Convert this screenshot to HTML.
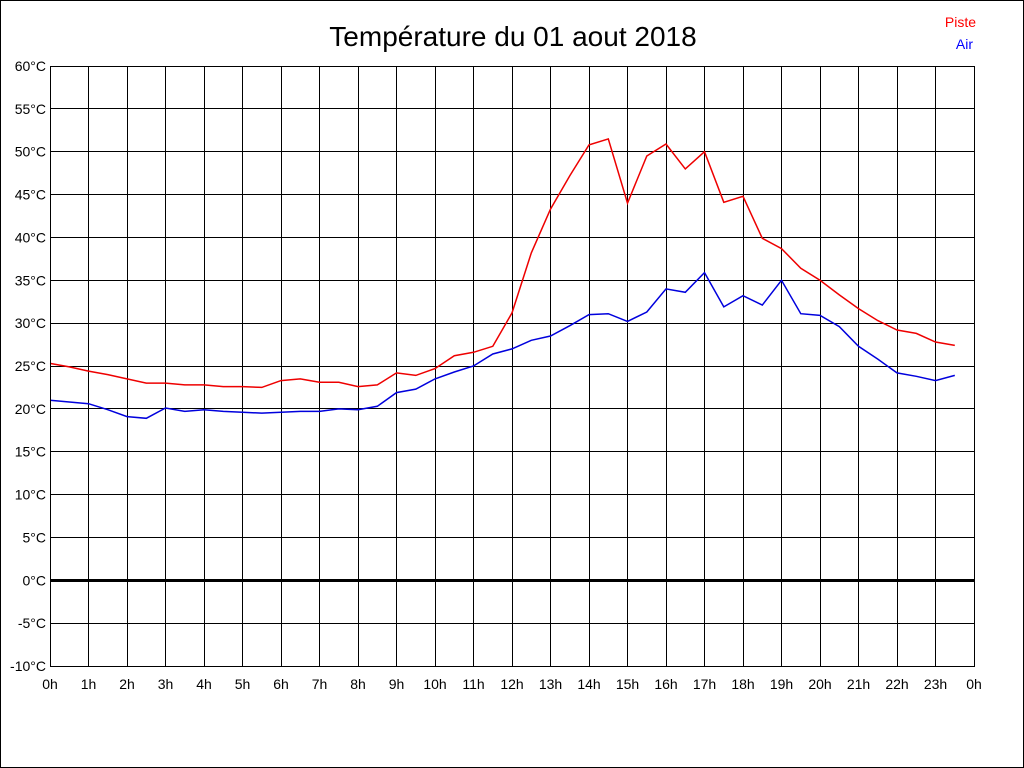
<!DOCTYPE html>
<html><head><meta charset="utf-8"><style>
html,body{margin:0;padding:0;background:#fff;}
svg{display:block;font-family:"Liberation Sans",sans-serif;}
</style></head><body>
<svg id="s" width="1024" height="768" xmlns="http://www.w3.org/2000/svg">
<rect x="0.5" y="0.5" width="1023" height="767" fill="#fff" stroke="#000"/>
<text x="513" y="46" font-size="28" text-anchor="middle">Température du 01 aout 2018</text>
<text x="976" y="27" font-size="14" fill="#f00" text-anchor="end">Piste</text>
<text x="973" y="49" font-size="14" fill="#00f" text-anchor="end">Air</text>
<g id="g"></g>
</svg>
<script>
var g=document.getElementById('g'),h='';
function X(t){return 50+t*38.5;}function Y(v){return 666-(v+10)*600/70;}
function C(v){return Math.round(v)+0.5;}
for(var i=0;i<=24;i++){var x=C(X(i)-0.4);h+='<line x1="'+x+'" y1="66" x2="'+x+'" y2="666" stroke="#000" shape-rendering="crispEdges"/>';
h+='<text x="'+X(i)+'" y="689" font-size="14" text-anchor="middle">'+(i%24)+'h</text>';}
for(var v=-10;v<=60;v+=5){var y=C(Y(v)-0.4);
if(v==0)h+='<rect x="50" y="'+(Math.round(Y(v))-1)+'" width="924" height="3" fill="#000"/>';
else h+='<line x1="50" y1="'+y+'" x2="974" y2="'+y+'" stroke="#000" shape-rendering="crispEdges"/>';
h+='<text x="46" y="'+(Y(v)+5)+'" font-size="14" text-anchor="end">'+v+'°C</text>';}
var p=[25.3,24.9,24.4,24,23.5,23,23,22.8,22.8,22.6,22.6,22.5,23.3,23.5,23.1,23.1,22.6,22.8,24.2,23.9,24.7,26.2,26.6,27.3,31.2,38.2,43.3,47.2,50.8,51.5,44,49.5,50.9,48,50,44.1,44.8,39.9,38.7,36.4,35,33.3,31.7,30.3,29.2,28.8,27.8,27.4];
var a=[21,20.8,20.6,19.9,19.1,18.9,20.1,19.7,19.9,19.7,19.6,19.5,19.6,19.7,19.7,20,19.9,20.3,21.9,22.3,23.5,24.3,25,26.4,27,28,28.5,29.7,31,31.1,30.2,31.3,34,33.6,35.9,31.9,33.2,32.1,35,31.1,30.9,29.6,27.3,25.8,24.2,23.8,23.3,23.9];
function pl(d,c){return '<polyline fill="none" stroke="'+c+'" stroke-width="1.5" points="'+d.map(function(v,i){return X(i/2).toFixed(1)+','+Y(v).toFixed(1)}).join(' ')+'"/>';}
h+=pl(p,'#e00')+pl(a,'#00d');
h+='<rect x="50.5" y="66.5" width="924" height="600" fill="none" stroke="#000" shape-rendering="crispEdges"/>';
g.innerHTML=h;
</script>
</body></html>
